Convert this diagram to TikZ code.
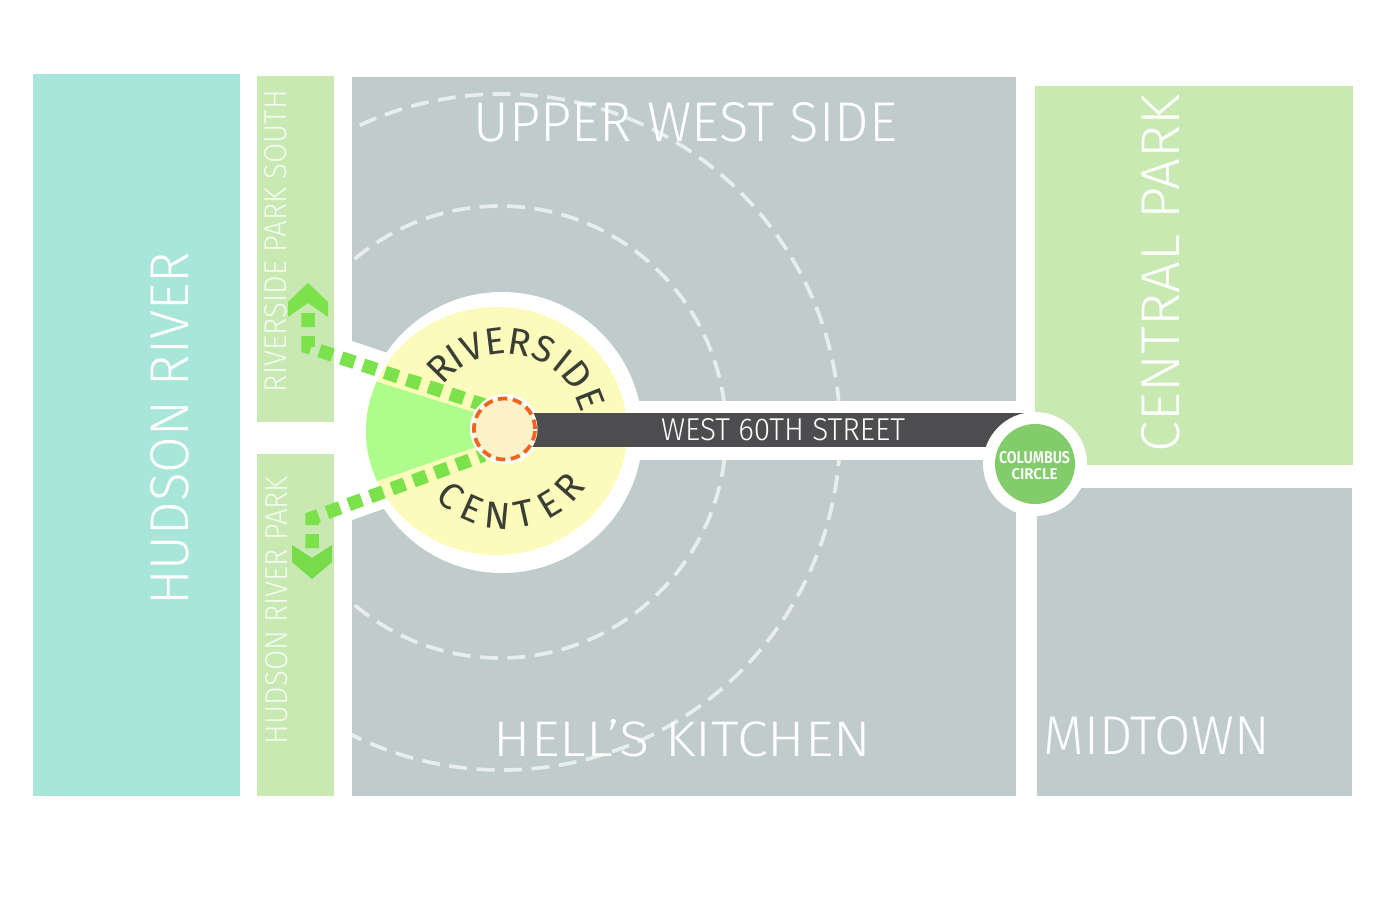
\documentclass[tikz,border=0pt]{standalone}
\usepackage{graphicx}
\usepackage{fontspec}
\setmainfont{Fira Sans Light}
\newfontfamily\boldf{Fira Sans SemiBold}
\newfontfamily\arcf{Fira Sans}
\definecolor{river}{HTML}{A9E6DA}
\definecolor{park}{HTML}{C8E9B2}
\definecolor{grey}{HTML}{C0CCCC}
\definecolor{yel}{HTML}{FDFBBC}
\definecolor{wedge}{HTML}{AEFD8C}
\definecolor{path}{HTML}{7BE24C}
\definecolor{street}{HTML}{4D4D4F}
\definecolor{orng}{HTML}{F0641E}
\definecolor{core}{HTML}{FDF1C9}
\definecolor{circ}{HTML}{82CC6B}
\definecolor{ink}{HTML}{3A3F35}
\definecolor{arcline}{HTML}{E8EDED}
\newcommand\fit[3]{\resizebox{#1pt}{#2pt}{#3}}
\tikzset{
 lab/.style={inner sep=0pt,text=white},
 plab/.style={inner sep=0pt,text=white!80!park},
 arcl/.style={inner sep=0pt,text=ink,font=\arcf},
 ring/.style={draw=arcline,line width=3.7pt,dash pattern=on 18pt off 9.5pt},
 greenway/.style={draw=path,line width=13.5pt,dash pattern=on 14pt off 9pt},
}
\begin{document}
\begin{tikzpicture}[x=1pt,y=-1pt]
\useasboundingbox (0,0) rectangle (1400,906);
\fill[white] (0,0) rectangle (1400,906);
\fill[river] (33,74) rectangle (240,796);
\fill[park] (257,76) rectangle (334,422);
\fill[park] (257,454) rectangle (334,796);
\fill[grey] (352,77) rectangle (1016,796);
\fill[park] (1035,86) rectangle (1353,465);
\fill[grey] (1037,488) rectangle (1352,796);
% rings
\begin{scope}
\clip (352,77) rectangle (1016,796);
\draw[ring] (500,432) circle[radius=226pt];
\draw[ring] (502,432) circle[radius=338pt];
\end{scope}
% white ground of the centre and street
\fill[white] (502,432.5) circle[radius=140.5pt];
\fill[white] (352,341) -- (420,364) -- (420,496) -- (352,520) -- cycle;
\fill[white] (505,401) rectangle (1035,460);
\fill[yel] (496.5,431) ellipse[x radius=130.5pt,y radius=124pt];
\begin{scope}
\clip (496.5,431) ellipse[x radius=130.5pt,y radius=124pt];
\fill[wedge] (505,422) -- (473,412) -- (340,370) -- (340,494) -- (473,448) -- (505,437) -- cycle;
\end{scope}
\fill[street] (505,413) rectangle (1035,446.5);
% labels
\node[lab] (hudson) at (170,429) {\rotatebox{90}{\fit{353}{38}{HUDSON RIVER}}};
\node[plab] (rps) at (276,241) {\rotatebox{90}{\fit{302}{22}{RIVERSIDE PARK SOUTH}}};
\node[plab] (hrp) at (277,610) {\rotatebox{90}{\fit{268}{22}{HUDSON RIVER PARK}}};
\node[lab] (uws) at (685.5,122.5) {\fit{423}{39}{UPPER WEST SIDE}};
\node[lab] (hk) at (682.5,738.5) {\fit{377}{37}{HELL’S KITCHEN}};
\node[lab] (mt) at (1156.5,736) {\fit{226}{38}{MIDTOWN}};
\node[lab] (cp) at (1161,273.5) {\rotatebox{90}{\fit{357}{38}{CENTRAL PARK}}};
\node[lab] (w60) at (783,430) {\fit{244}{22}{WEST 60TH STREET}};
% columbus circle
\fill[white] (1035,464) circle[radius=52pt];
\node[circle,fill=circ,minimum size=80pt,inner sep=0pt] (cc) at (1035,464) {};
\node[lab] (cc1) at (1034.5,458) {\boldf\fit{71}{12}{COLUMBUS}};
\node[lab] (cc2) at (1034.5,474.5) {\boldf\fit{46}{11}{CIRCLE}};
% greenways
\draw[greenway] (308,313) -- (308,347) -- (484,405);
\draw[greenway] (312,548) -- (312,518) -- (484,455);
\fill[path] (308,283) -- (328,302) -- (328,317) -- (308,303) -- (288,317) -- (288,302) -- cycle;
\fill[path!97!black] (312,579) -- (332,562) -- (332,545) -- (312,558) -- (292,545) -- (292,562) -- cycle;
% core
\fill[white] (505,429) circle[radius=35pt];
\fill[street] (530,413) rectangle (560,446.5);
\fill[white] (504.5,429) circle[radius=33pt];
\draw[draw=orng,fill=core,line width=3.8pt,dash pattern=on 9.5pt off 5.5pt] (504.5,429) circle[radius=30.5pt];
% curved text, letter by letter
\foreach \a/\l [count=\i] in {135.5/R,124/I,112/V,97/E,81/R,65/S,51.6/I,38.7/D,21.5/E}
  \node[arcl,rotate=\a-90] (riv\i) at ({506+91*cos(\a)},{432-91*sin(\a)}) {\resizebox{!}{26pt}{\l}};
\foreach \a/\l [count=\i] in {229/C,246/E,264.5/N,282.5/T,301/E,318.5/R}
  \node[arcl,rotate=\a-270] (cen\i) at ({506+84*cos(\a)},{432-84*sin(\a)}) {\resizebox{!}{26pt}{\l}};
\end{tikzpicture}
\end{document}
